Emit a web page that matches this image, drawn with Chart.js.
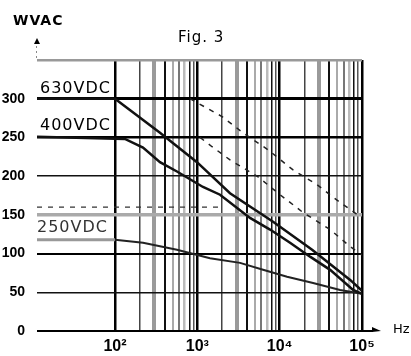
<!DOCTYPE html>
<html>
<head>
<meta charset="utf-8">
<script src="https://cdn.jsdelivr.net/npm/chart.js@4/dist/chart.umd.min.js"></script>
<style>
html, body { margin: 0; padding: 0; background: #fff; }
#wrap { width: 411px; height: 356px; }
</style>
</head>
<body>
<div id="wrap"><canvas id="graph_fig3" width="411" height="356"></canvas></div>
<script>
// frequency (Hz) / working voltage (WVAC)
var hz630 = [11.3, 100, 352, 991, 2495, 8318, 24770, 71780, 100000];
var v630  = [300, 300, 256, 218, 178, 141, 105, 66, 52];

var hz400 = [11.3, 132, 219, 352, 566, 1172, 1888, 4365, 7640, 13370, 23390, 41020, 77980, 100000];
var v400  = [251, 248, 237, 218, 206, 186, 176, 146, 131, 114, 96, 79, 53, 48];

var hz250 = [11.3, 100, 219, 566, 1426, 3304, 6281, 12300, 25470, 54200, 100000];
var v250  = [118, 118, 114, 105, 94, 88, 79, 70, 62, 53, 48];

// dashed curves
var hz630d = [815, 1995, 3589, 7228, 14550, 28440, 49770, 100000];
var v630d  = [300, 277, 256, 234, 208, 189, 169, 146];

var hz400d = [1079, 1510, 2495, 5470, 10120, 18700, 41020, 71780, 100000];
var v400d  = [250, 238, 221, 199, 176, 154, 131, 109, 98];

var hzFlat = [11.3, 1888];
var vFlat  = [160, 160];

var xTicks = [];
[100, 1000, 10000].forEach(function (d) {
    for (var k = 1; k <= 9; k++) xTicks.push(k * d);
});
xTicks.push(100000);
var yTicks = [0, 50, 100, 150, 200, 250, 300, 350];

function pts(xs, ys) {
    return xs.map(function (x, i) { return { x: x, y: ys[i] }; });
}

var sup = { 2: '\u00B2', 3: '\u00B3', 4: '\u2074', 5: '\u2075' };

// grid line look of the scan: [colour, width]
var xGridStyle = {
    1: ['#000', 2.5], 2: ['#444', 1.5], 3: ['#9a9a9a', 4], 4: ['#111', 2],
    5: ['#aaa', 2], 6: ['#777', 2], 7: ['#bbb', 2.5], 8: ['#111', 1.5], 9: ['#555', 1.5]
};
var yGridStyle = {
    0: ['#000', 2], 50: ['#111', 1.5], 100: ['#000', 2], 150: ['#aaa', 3.5],
    200: ['#111', 1.5], 250: ['#000', 2.5], 300: ['#000', 3], 350: ['#999', 2.5]
};

function mant(v) {
    var e = Math.floor(Math.log10(v) + 1e-9);
    return Math.round(v / Math.pow(10, e));
}

var decor = {
    id: 'decor',
    afterDraw: function (chart) {
        var c = chart.ctx, a = chart.chartArea;
        c.save();
        c.fillStyle = '#000';
        c.strokeStyle = '#000';

        // x axis arrow
        c.lineWidth = 2;
        c.beginPath();
        c.moveTo(a.right, a.bottom);
        c.lineTo(373, a.bottom);
        c.stroke();
        c.beginPath();
        c.moveTo(372, a.bottom - 4);
        c.lineTo(381, a.bottom);
        c.lineTo(372, a.bottom + 1);
        c.closePath();
        c.fill();

        // y axis arrow
        c.beginPath();
        c.moveTo(34, 44);
        c.lineTo(37, 38);
        c.lineTo(40, 44);
        c.closePath();
        c.fill();
        c.lineWidth = 1;
        c.setLineDash([2, 3]);
        c.strokeStyle = '#888';
        c.beginPath();
        c.moveTo(36.5, 46);
        c.lineTo(36.5, a.top);
        c.stroke();
        c.setLineDash([]);

        c.textBaseline = 'alphabetic';
        c.textAlign = 'left';
        c.font = 'bold 14px "DejaVu Sans"';
        c.letterSpacing = '1px';
        c.fillText('WVAC', 13, 25);

        c.font = '15px "DejaVu Sans"';
        c.letterSpacing = '1px';
        c.fillText('Fig. 3', 178, 42);

        c.font = '16px "DejaVu Sans"';
        c.letterSpacing = '1px';
        c.fillText('630VDC', 40, 93);
        c.fillText('400VDC', 40, 130);
        c.fillStyle = '#333';
        c.fillText('250VDC', 37, 232);

        c.fillStyle = '#000';
        c.font = '13px "DejaVu Sans"';
        c.letterSpacing = '0px';
        c.fillText('Hz', 393, 333);
        c.restore();
    }
};

var ctx = document.getElementById('graph_fig3');

var chart_fig3 = new Chart(ctx, {
    type: 'line',
    data: {
        datasets: [
            {
                data: pts(hz630, v630),
                borderColor: '#111',
                borderWidth: 2.5
            },
            {
                data: pts(hz400, v400),
                borderColor: '#111',
                borderWidth: 2.5
            },
            {
                data: pts(hz250, v250),
                borderColor: '#222',
                borderWidth: 2,
                segment: {
                    borderColor: function (s) { return s.p1.parsed.x <= 100 ? '#999' : '#222'; },
                    borderWidth: function (s) { return s.p1.parsed.x <= 100 ? 3 : 2; }
                }
            },
            {
                data: pts(hz630d, v630d),
                borderColor: '#222',
                borderWidth: 1.5,
                borderDash: [5, 6]
            },
            {
                data: pts(hz400d, v400d),
                borderColor: '#222',
                borderWidth: 1.5,
                borderDash: [5, 6]
            },
            {
                data: pts(hzFlat, vFlat),
                borderColor: '#333',
                borderWidth: 1.2,
                borderDash: [5, 6]
            }
        ]
    },
    options: {
        responsive: false,
        animation: false,
        devicePixelRatio: 1,
        elements: {
            point: { radius: 0 },
            line: { tension: 0 }
        },
        layout: {
            padding: { left: 0, right: 49, top: 60, bottom: 0 }
        },
        plugins: {
            legend: { display: false },
            tooltip: { enabled: false }
        },
        scales: {
            x: {
                type: 'logarithmic',
                min: 11.3,
                max: 100000,
                afterBuildTicks: function (scale) {
                    scale.ticks = xTicks.map(function (v) { return { value: v }; });
                },
                afterFit: function (scale) { scale.height = 25; },
                border: { display: false },
                grid: {
                    drawTicks: false,
                    color: function (g) { return xGridStyle[mant(g.tick.value)][0]; },
                    lineWidth: function (g) { return xGridStyle[mant(g.tick.value)][1]; }
                },
                ticks: {
                    autoSkip: false,
                    maxRotation: 0,
                    minRotation: 0,
                    padding: 6,
                    color: '#000',
                    font: { family: '"Liberation Sans"', size: 16, weight: 'bold' },
                    callback: function (v) {
                        if (mant(v) !== 1) return '';
                        return '10' + sup[Math.round(Math.log10(v))];
                    }
                }
            },
            y: {
                min: 0,
                max: 350,
                afterBuildTicks: function (scale) {
                    scale.ticks = yTicks.map(function (v) { return { value: v }; });
                },
                afterFit: function (scale) { scale.width = 37; },
                border: { display: false },
                grid: {
                    drawTicks: false,
                    color: function (g) { return yGridStyle[g.tick.value][0]; },
                    lineWidth: function (g) { return yGridStyle[g.tick.value][1]; }
                },
                ticks: {
                    padding: 12,
                    color: '#000',
                    font: { family: '"Liberation Sans"', size: 14, weight: 'bold' },
                    callback: function (v) { return v === 350 ? '' : v; }
                }
            }
        }
    },
    plugins: [decor]
});
</script>
</body>
</html>
